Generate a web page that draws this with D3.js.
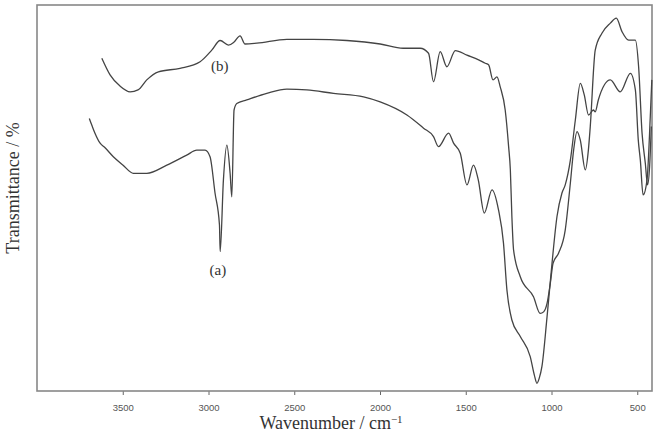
<!DOCTYPE html>
<html lang="en">
<head>
  <meta charset="UTF-8">
  <title>ftir</title>
  <script src="https://d3js.org/d3.v7.min.js"></script>
  <style>
    body {
      margin: 0;
      padding: 0;
      background: #fff;
    }
    #chart {
      width: 662px;
      height: 433px;
    }
  </style>
</head>
<body>
  <div id="chart"></div>
</body>
<script>
  // 波数 / 透过率
  const waveB = [3622, 3574, 3516, 3457, 3411, 3360, 3292, 3166, 3049, 2981, 2932, 2884, 2851, 2816, 2787, 2718, 2543, 2390, 2193, 1999, 1865, 1766, 1717, 1688, 1649, 1610, 1561, 1493, 1425, 1386, 1367, 1341, 1318, 1299, 1270, 1250, 1240, 1231, 1221, 1182, 1105, 1066, 1046, 1026, 1007, 991, 959, 920, 890, 871, 851, 832, 803, 785, 774, 745, 706, 657, 622, 589, 550, 511, 492, 472, 453, 440, 428, 418]
  const transB = [86.2, 81.9, 79.0, 77.5, 78.0, 80.6, 82.7, 83.6, 85.3, 88.3, 90.8, 89.6, 90.4, 92.0, 89.9, 90.1, 91.1, 91.1, 90.8, 89.9, 88.8, 88.8, 87.5, 80.1, 87.9, 84.0, 88.2, 87.0, 85.8, 84.9, 84.5, 80.6, 81.4, 78.8, 72.8, 63.3, 57.3, 45.2, 36.5, 29.6, 24.4, 20.1, 20.5, 22.7, 27.9, 33.1, 35.7, 41.7, 53.9, 62.4, 67.2, 65.0, 57.3, 62.4, 68.5, 88.3, 92.7, 95.3, 96.6, 93.1, 90.9, 90.9, 84.0, 66.8, 59.0, 53.4, 58.1, 68.5]

  const waveA = [3695, 3679, 3662, 3632, 3603, 3555, 3498, 3438, 3360, 3243, 3127, 3068, 3020, 2991, 2962, 2936, 2932, 2913, 2893, 2874, 2864, 2851, 2835, 2777, 2660, 2543, 2427, 2271, 2096, 1999, 1843, 1746, 1688, 1659, 1600, 1571, 1532, 1493, 1455, 1427, 1392, 1347, 1309, 1280, 1260, 1231, 1182, 1124, 1100, 1085, 1071, 1056, 1026, 997, 968, 939, 920, 890, 861, 832, 809, 784, 756, 745, 727, 657, 599, 540, 511, 494, 482, 466, 443, 424, 415]
  const transA = [70.6, 68.7, 66.8, 64.2, 63.0, 60.7, 58.5, 56.4, 56.4, 58.5, 61.1, 62.4, 62.4, 60.7, 51.3, 43.0, 36.1, 54.7, 63.7, 56.4, 50.3, 72.8, 74.5, 75.4, 77.1, 78.2, 78.0, 77.1, 76.2, 74.9, 71.5, 68.1, 65.9, 63.3, 66.8, 64.2, 61.6, 53.4, 58.5, 54.7, 46.1, 52.1, 46.9, 38.3, 26.2, 18.4, 14.1, 8.9, 4.1, 2.0, 3.4, 6.3, 19.2, 33.1, 45.2, 51.3, 53.4, 59.8, 70.2, 79.7, 76.7, 71.5, 72.8, 72.3, 75.4, 80.6, 77.5, 82.3, 78.0, 65.0, 59.8, 50.8, 54.7, 71.1, 80.6]

  const xTicks = [3500, 3000, 2500, 2000, 1500, 1000, 500]

  const margin = { top: 5, right: 10, bottom: 42, left: 37 }
  const width = 662
  const height = 433

  const svg = d3.select('#chart')
    .append('svg')
    .attr('width', width)
    .attr('height', height)

  const x = d3.scaleLinear()
    .domain([4000, 414])
    .range([margin.left, width - margin.right])

  const y = d3.scaleLinear()
    .domain([0, 100])
    .range([height - margin.bottom, margin.top])

  // 坐标轴
  const xAxis = svg.append('g')
    .attr('transform', `translate(0, ${height - margin.bottom})`)
    .call(d3.axisBottom(x).tickValues(xTicks).tickFormat(d3.format('d')).tickSize(4).tickPadding(9))
  xAxis.select('.domain').remove()
  xAxis.selectAll('line').attr('stroke', '#666')
  xAxis.selectAll('text')
    .attr('fill', '#555')
    .style('font-family', 'Liberation Sans Narrow, Arial, sans-serif')
    .style('font-size', '9.5px')

  svg.append('rect')
    .attr('x', margin.left)
    .attr('y', margin.top)
    .attr('width', width - margin.left - margin.right)
    .attr('height', height - margin.top - margin.bottom)
    .attr('fill', 'none')
    .attr('stroke', '#888')
    .attr('stroke-width', 1.6)

  const line = d3.line()
    .x(d => x(d[0]))
    .y(d => y(d[1]))
    .curve(d3.curveMonotoneX)

  const series = [
    d3.zip(waveB, transB),
    d3.zip(waveA, transA)
  ]

  svg.append('g')
    .selectAll('path')
    .data(series)
    .join('path')
    .attr('d', line)
    .attr('fill', 'none')
    .attr('stroke', '#444')
    .attr('stroke-width', 1.3)
    .attr('stroke-linejoin', 'round')

  // 标签
  const serif = 'Liberation Serif, Times New Roman, serif'
  svg.append('text')
    .attr('x', x(2935))
    .attr('y', y(83.8))
    .attr('text-anchor', 'middle')
    .attr('dominant-baseline', 'middle')
    .style('font-family', serif)
    .style('font-size', '15px')
    .attr('fill', '#333')
    .text('(b)')

  svg.append('text')
    .attr('x', x(2945))
    .attr('y', y(31))
    .attr('text-anchor', 'middle')
    .attr('dominant-baseline', 'middle')
    .style('font-family', serif)
    .style('font-size', '15px')
    .attr('fill', '#333')
    .text('(a)')

  const title = svg.append('text')
    .attr('x', 331)
    .attr('y', 429)
    .attr('text-anchor', 'middle')
    .style('font-family', serif)
    .style('font-size', '18px')
    .attr('fill', '#333')
  title.append('tspan').text('Wavenumber / cm')
  title.append('tspan').attr('dy', -6).style('font-size', '11px').text('−1')

  svg.append('text')
    .attr('transform', 'translate(19, 188) rotate(-90)')
    .attr('text-anchor', 'middle')
    .style('font-family', serif)
    .style('font-size', '18px')
    .attr('fill', '#333')
    .text('Transmittance / %')
</script>
</html>
